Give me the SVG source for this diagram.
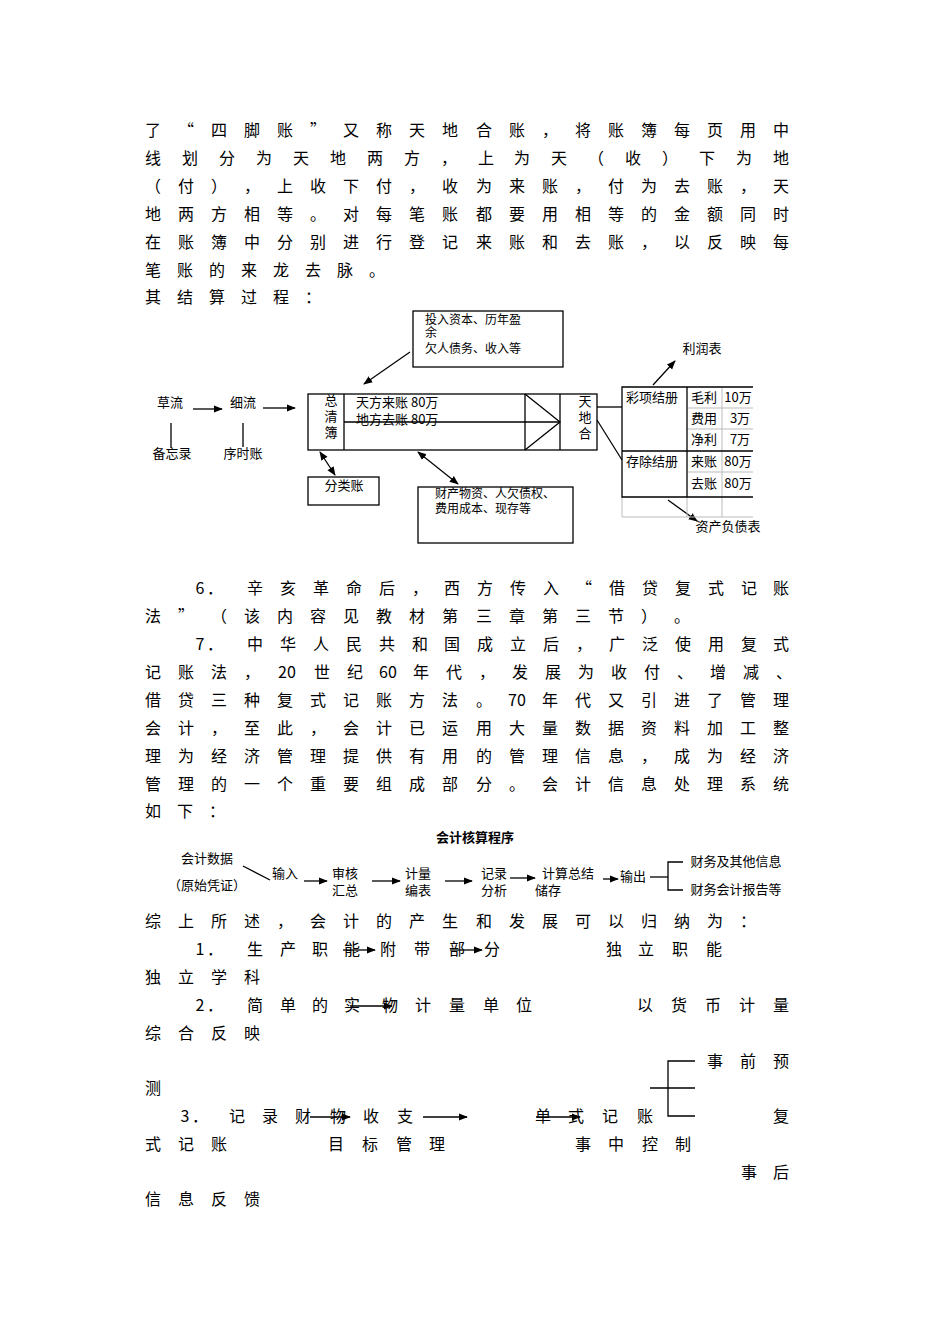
<svg xmlns="http://www.w3.org/2000/svg" width="950" height="1344" viewBox="0 0 950 1344">
<style>
.b{font-family:"Noto Sans CJK SC","Noto Sans",sans-serif;font-size:16px;fill:#000;text-anchor:middle}
.s{font-family:"Noto Sans CJK SC","Liberation Serif",serif;font-size:13px;fill:#000}
.t{font-family:"Noto Sans CJK SC","Liberation Serif",serif;font-size:12px;fill:#000}
.sm{font-family:"Noto Sans CJK SC","Liberation Serif",serif;font-size:13px;fill:#000;text-anchor:middle}
.ln{stroke:#000;stroke-width:1.3;fill:none}
.g{stroke:#bbb;stroke-width:1;fill:none}
</style>
<defs>
<marker id="a" viewBox="0 0 10 10" refX="9" refY="5" markerWidth="7" markerHeight="7" orient="auto-start-reverse"><path d="M0,1 L10,5 L0,9 z" fill="#000"/></marker>
</defs>
<rect width="950" height="1344" fill="#fff"/>
<g id="para1">
<text class="b" y="136" x="153 186 219 252 285 318 351 384 417 450 484 517 550 583 616 649 682 715 748 781">了“四脚账”又称天地合账，将账簿每页用中</text>
<text class="b" y="164" x="153 190 227 264 301 338 375 412 449 486 522 559 596 633 670 707 744 781">线划分为天地两方，上为天（收）下为地</text>
<text class="b" y="192" x="153 186 219 252 285 318 351 384 417 450 484 517 550 583 616 649 682 715 748 781">（付），上收下付，收为来账，付为去账，天</text>
<text class="b" y="220" x="153 186 219 252 285 318 351 384 417 450 484 517 550 583 616 649 682 715 748 781">地两方相等。对每笔账都要用相等的金额同时</text>
<text class="b" y="248" x="153 186 219 252 285 318 351 384 417 450 484 517 550 583 616 649 682 715 748 781">在账簿中分别进行登记来账和去账，以反映每</text>
<text class="b" y="276" x="153 185 217 249 281 313 345 377">笔账的来龙去脉。</text>
<text class="b" y="303" x="153 185 217 249 281 313">其结算过程：</text>
</g>
<g id="connectors">
<line class="ln" x1="193" y1="409" x2="222" y2="409" marker-end="url(#a)"/>
<line class="ln" x1="263" y1="408" x2="295" y2="408" marker-end="url(#a)"/>
<line class="ln" x1="171" y1="423" x2="171" y2="448"/>
<line class="ln" x1="243" y1="423" x2="243" y2="447"/>
<line class="ln" x1="410" y1="352" x2="364" y2="384" marker-end="url(#a)"/>
<line class="ln" x1="320" y1="452" x2="335" y2="475" marker-start="url(#a)" marker-end="url(#a)"/>
<line class="ln" x1="418" y1="452" x2="458" y2="484" marker-start="url(#a)" marker-end="url(#a)"/>
<line class="ln" x1="597" y1="407" x2="622" y2="407"/>
<line class="ln" x1="597" y1="420" x2="622" y2="460"/>
<line class="ln" x1="653" y1="385" x2="675" y2="361" marker-end="url(#a)"/>
<line class="ln" x1="668" y1="500" x2="697" y2="521" marker-end="url(#a)"/>
</g>
<g id="n-caoliu"><text class="sm" x="170" y="407">草流</text><text class="sm" x="172" y="458">备忘录</text></g>
<g id="n-xiliu"><text class="sm" x="243" y="407">细流</text><text class="sm" x="243" y="458">序时账</text></g>
<g id="n-main">
<rect class="ln" x="308" y="394" width="289" height="56"/>
<line class="ln" x1="344" y1="394" x2="344" y2="450"/>
<line class="ln" x1="525" y1="394" x2="525" y2="450"/>
<line class="ln" x1="560" y1="394" x2="560" y2="450"/>
<line class="ln" x1="344" y1="422" x2="560" y2="422"/>
<polyline class="ln" points="525,394 560,422 525,450"/>
<text class="sm" x="331" y="405">总</text><text class="sm" x="331" y="421">清</text><text class="sm" x="331" y="437">簿</text>
<text class="s" x="356" y="407">天方来账 80万</text>
<text class="s" x="356" y="424">地方去账  80万</text>
<text class="sm" x="585" y="406">天</text><text class="sm" x="585" y="422">地</text><text class="sm" x="585" y="438">合</text>
</g>
<g id="n-top">
<rect class="ln" x="413" y="311" width="150" height="56"/>
<text class="t" x="425" y="324">投入资本、历年盈</text>
<text class="t" x="425" y="337">余</text>
<text class="t" x="425" y="353">欠人债务、收入等</text>
</g>
<g id="n-fenlei"><rect class="ln" x="308" y="477" width="71" height="28"/><text class="sm" x="344" y="490">分类账</text></g>
<g id="n-bottom">
<rect class="ln" x="418" y="487" width="155" height="56"/>
<text class="t" x="435" y="498">财产物资、人欠债权、</text>
<text class="t" x="435" y="513">费用成本、现存等</text>
</g>
<g id="n-table">
<line class="g" x1="622" y1="497" x2="622" y2="517"/>
<line class="g" x1="687" y1="497" x2="687" y2="517"/>
<line class="g" x1="722" y1="387" x2="722" y2="517"/>
<line class="g" x1="622" y1="517" x2="753" y2="517"/>
<line class="g" x1="687" y1="408" x2="753" y2="408"/>
<line class="g" x1="687" y1="429" x2="753" y2="429"/>
<line class="g" x1="687" y1="472" x2="753" y2="472"/>
<polyline class="ln" points="753,387 622,387 622,497 753,497"/>
<line class="ln" x1="687" y1="387" x2="687" y2="497"/>
<line class="ln" x1="622" y1="451" x2="753" y2="451"/>
<text class="sm" x="652" y="402">彩项结册</text><text class="sm" x="704" y="402">毛利</text><text class="sm" x="738" y="402">10万</text>
<text class="sm" x="704" y="423">费用</text><text class="sm" x="740" y="423">3万</text>
<text class="sm" x="704" y="444">净利</text><text class="sm" x="740" y="444">7万</text>
<text class="sm" x="652" y="466">存除结册</text><text class="sm" x="704" y="466">来账</text><text class="sm" x="738" y="466">80万</text>
<text class="sm" x="704" y="488">去账</text><text class="sm" x="738" y="488">80万</text>
<text class="sm" x="702" y="353">利润表</text>
<text class="sm" x="728" y="531">资产负债表</text>
</g>
<g id="para2">
<text class="b" y="594" x="200 215 255 288 321 354 387 420 452 485 518 551 584 617 650 683 716 749 781">6．辛亥革命后，西方传入“借贷复式记账</text>
<text class="b" y="622" x="153 186 219 252 285 318 351 384 417 450 484 517 550 583 616 649 682">法”（该内容见教材第三章第三节）。</text>
<text class="b" y="650" x="200 215 255 288 321 354 387 420 452 485 518 551 584 617 650 683 716 749 781">7．中华人民共和国成立后，广泛使用复式</text>
<text class="b" y="678" x="153 186 219 252">记账法，<tspan x="287">20</tspan><tspan x="322 355">世纪</tspan><tspan x="388">60</tspan><tspan x="421 454 487 520 553 586 619 652 685 718 751 784">年代，发展为收付、增减、</tspan></text>
<text class="b" y="706" x="153 186 219 252 285 318 351 384 417 450 484">借贷三种复式记账方法。<tspan x="517">70</tspan><tspan x="550 583 616 649 682 715 748 781">年代又引进了管理</tspan></text>
<text class="b" y="734" x="153 186 219 252 285 318 351 384 417 450 484 517 550 583 616 649 682 715 748 781">会计，至此，会计已运用大量数据资料加工整</text>
<text class="b" y="762" x="153 186 219 252 285 318 351 384 417 450 484 517 550 583 616 649 682 715 748 781">理为经济管理提供有用的管理信息，成为经济</text>
<text class="b" y="790" x="153 186 219 252 285 318 351 384 417 450 484 517 550 583 616 649 682 715 748 781">管理的一个重要组成部分。会计信息处理系统</text>
<text class="b" y="817" x="153 185 217">如下：</text>
</g>
<g id="flow2">
<text class="sm" x="475" y="842" font-weight="bold">会计核算程序</text>
<text class="sm" x="207" y="863">会计数据</text>
<text class="sm" x="207" y="890">（原始凭证）</text>
<line class="ln" x1="243" y1="866" x2="270" y2="880"/>
<text class="sm" x="285" y="878">输入</text>
<line class="ln" x1="304" y1="881" x2="327" y2="881" marker-end="url(#a)"/>
<text class="sm" x="345" y="878">审核</text><text class="sm" x="345" y="895">汇总</text>
<line class="ln" x1="372" y1="881" x2="400" y2="881" marker-end="url(#a)"/>
<text class="sm" x="418" y="878">计量</text><text class="sm" x="418" y="895">编表</text>
<line class="ln" x1="445" y1="881" x2="472" y2="881" marker-end="url(#a)"/>
<text class="sm" x="494" y="878">记录</text><text class="sm" x="494" y="895">分析</text>
<line class="ln" x1="510" y1="878" x2="535" y2="878" marker-end="url(#a)"/>
<text class="sm" x="568" y="878">计算总结</text><text class="sm" x="548" y="895">储存</text>
<line class="ln" x1="603" y1="879" x2="618" y2="879" marker-end="url(#a)"/>
<text class="sm" x="633" y="881">输出</text>
<polyline class="ln" points="650,877 668,877"/>
<polyline class="ln" points="683,862 668,862 668,890 683,890"/>
<text class="sm" x="736" y="866">财务及其他信息</text>
<text class="sm" x="736" y="894">财务会计报告等</text>
</g>
<g id="para3">
<text class="b" y="927" x="153 186 219 252 285 318 351 384 417 450 484 517 550 583 616 649 682 715 748 781">综上所述，会计的产生和发展可以归纳为：</text>
<text class="b" y="955" x="200 215 255 288 320 352 388 422 457 492 614 646 680 714">1．生产职能附带部分独立职能</text>
<text class="b" y="983" x="153 186 219 252">独立学科</text>
<text class="b" y="1011" x="200 215 255 288 320 352 390 423 457 491 524 645 679 713 747 781">2．简单的实物计量单位以货币计量</text>
<text class="b" y="1039" x="153 186 219 252">综合反映</text>
<text class="b" y="1067" x="715 748 781">事前预</text>
<text class="b" y="1094" x="153">测</text>
<text class="b" y="1122" x="185 200 237 270 303 338 371 405 543 576 610 645 781">3．记录财物收支单式记账复</text>
<text class="b" y="1150" x="153 186 219 336 370 404 437 583 616 650 683">式记账目标管理事中控制</text>
<text class="b" y="1178" x="749 781">事后</text>
<text class="b" y="1205" x="153 186 219 252">信息反馈</text>
<line class="ln" x1="343" y1="950" x2="375" y2="950" marker-end="url(#a)"/>
<line class="ln" x1="450" y1="950" x2="482" y2="950" marker-end="url(#a)"/>
<line class="ln" x1="350" y1="1006" x2="392" y2="1006" marker-end="url(#a)"/>
<line class="ln" x1="310" y1="1117" x2="350" y2="1117" marker-end="url(#a)"/>
<line class="ln" x1="423" y1="1117" x2="467" y2="1117" marker-end="url(#a)"/>
<line class="ln" x1="536" y1="1117" x2="580" y2="1117" marker-end="url(#a)"/>
<polyline class="ln" points="695,1061 668,1061 668,1116 695,1116"/>
<line class="ln" x1="650" y1="1088" x2="695" y2="1088"/>
</g>
</svg>
